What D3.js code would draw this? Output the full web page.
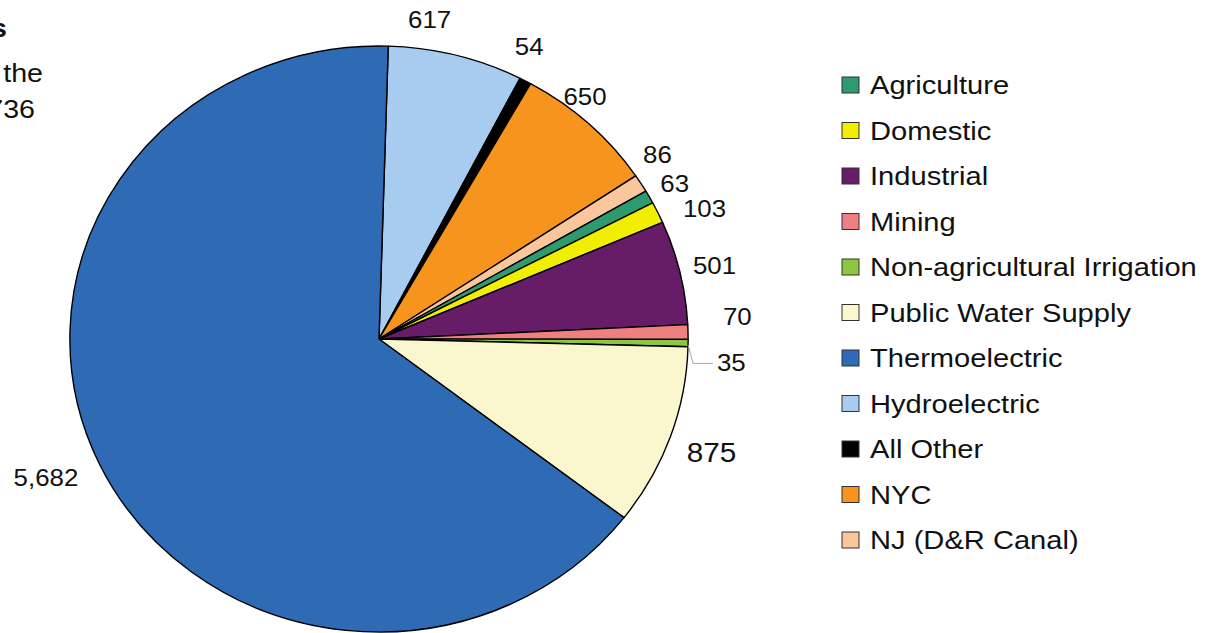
<!DOCTYPE html>
<html>
<head>
<meta charset="utf-8">
<script src="https://cdn.jsdelivr.net/npm/d3@7"></script>
<style>
  body { margin: 0; background: #fff; }
  svg { display: block; font-family: "Liberation Sans", Arial, sans-serif; }
</style>
</head>
<body>
<svg id="pie-chart"></svg>
<script>
// Slices, clockwise from 12 o'clock
const categories = ["Hydroelectric", "All Other", "NYC", "NJ (D&R Canal)", "Agriculture", "Domestic",
  "Industrial", "Mining", "Non-agricultural Irrigation", "Public Water Supply", "Thermoelectric"];
const values = [617, 54, 650, 86, 63, 103, 501, 70, 35, 875, 5682];

// Legend order and colours
const legendOrder = ["Agriculture", "Domestic", "Industrial", "Mining", "Non-agricultural Irrigation",
  "Public Water Supply", "Thermoelectric", "Hydroelectric", "All Other", "NYC", "NJ (D&R Canal)"];
const legendColors = ["#2e9a70", "#f2ee00", "#661c66", "#ef8080", "#8dc63f",
  "#faf7cf", "#2f6ab5", "#a8cbf0", "#000000", "#f7941e", "#f9c79b"];

// Title lines (mostly cropped off the left edge)
const titleLines = ["Water Withdrawals", "Withdrawals (mgd) in the", "Basin total: 8,736"];

const width = 1207;
const height = 633;
const cx = 379, cy = 339, R = 293, sx = 1.055; // pie is stretched a little horizontally
const textScale = 1.1;
const start = 0.03;

// small label shifts (px) where the labels were moved to avoid overlaps
const labelNudge = [[-36, -12], [-11, -13], [-30, -9], [-10, -16], [-2, -1], [12, 7],
  [-3, -1], [18, -15], [12, 19], [2, 7], [-6, 2]];

const color = d3.scaleOrdinal(legendOrder, legendColors);
const fmt = d3.format(",");

const data = categories.map((c, i) => ({ name: c, value: values[i] }));

const svg = d3.select("#pie-chart").attr("width", width).attr("height", height);

const pie = d3.pie().sort(null).value((d) => d.value)
  .startAngle(start).endAngle(start + 2 * Math.PI);
const arc = d3.arc().innerRadius(0).outerRadius(R);
const arcs = pie(data);

// Slices
const g = svg.append("g").attr("transform", `translate(${cx},${cy}) scale(${sx},1)`);
g.selectAll("path")
  .data(arcs)
  .enter()
  .append("path")
  .attr("d", arc)
  .attr("fill", (d) => color(d.data.name))
  .attr("stroke", "#000")
  .attr("stroke-width", 1.4)
  .attr("stroke-linejoin", "round")
  .attr("vector-effect", "non-scaling-stroke");

const pt = (a, r) => [cx + sx * r * Math.sin(a), cy - r * Math.cos(a)];

// Data labels
const gap = 16;
arcs.forEach((d, i) => {
  const a = (d.startAngle + d.endAngle) / 2;
  const big = d.data.value === 875;
  const fs = big ? 27 : 23.5;
  const label = fmt(d.data.value);
  const w = label.length * fs * 0.556 * textScale;
  const h = fs * 0.75;
  const p = pt(a, R + gap);
  const x = p[0] + Math.sin(a) * w / 2 + labelNudge[i][0];
  const y = p[1] - Math.cos(a) * h / 2 + labelNudge[i][1];

  svg.append("text")
    .attr("transform", `translate(${x},${y}) scale(${textScale},1)`)
    .attr("text-anchor", "middle")
    .attr("dy", "0.36em")
    .style("font-size", fs + "px")
    .style("fill", "#111")
    .text(label);

  // leader line for the thin slice
  if (d.data.value === 35) {
    const e = pt(a, R);
    const left = x - w / 2;
    svg.append("polyline")
      .attr("points", `${e[0]},${e[1] + 2} ${e[0] + 5},${y + 1} ${left - 4},${y + 1}`)
      .attr("fill", "none")
      .attr("stroke", "#a6a6a6")
      .attr("stroke-width", 1);
  }
});

// Legend
const legendY = d3.scalePoint().domain(legendOrder).range([85, 540]);
const legend = svg.append("g");
legend.selectAll("rect")
  .data(legendOrder)
  .enter()
  .append("rect")
  .attr("x", 842)
  .attr("y", (d) => legendY(d) - 8)
  .attr("width", 17)
  .attr("height", 16)
  .attr("fill", (d) => color(d))
  .attr("stroke", "#333")
  .attr("stroke-width", 1);

legend.selectAll("text")
  .data(legendOrder)
  .enter()
  .append("text")
  .attr("transform", (d) => `translate(870,${legendY(d)}) scale(1.12,1)`)
  .attr("dy", "0.36em")
  .style("font-size", "26px")
  .style("fill", "#111")
  .text((d) => d);

// Title (cropped)
const titleX = [7, 43, 35];
const titleY = [37, 82, 118];
titleLines.forEach((t, i) => {
  svg.append("text")
    .attr("transform", `translate(${titleX[i]},${titleY[i]}) scale(1.1,1)`)
    .attr("text-anchor", "end")
    .style("font-size", "26px")
    .style("font-weight", i === 0 ? "bold" : "normal")
    .style("fill", "#111")
    .text(t);
});
</script>
</body>
</html>
